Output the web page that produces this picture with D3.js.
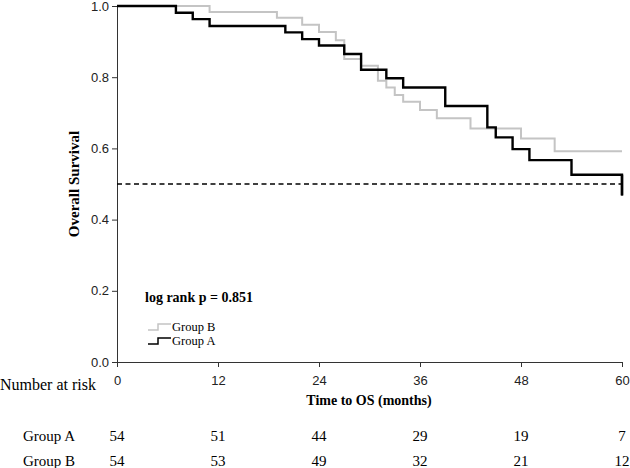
<!DOCTYPE html>
<html>
<head>
  <meta charset="UTF-8">
  <title>Overall Survival KM</title>
  <script src="https://d3js.org/d3.v7.min.js"></script>
  <style>
    body { margin: 0; padding: 0; background: white; }
    svg { display: block; font-family: "Liberation Serif", "Times New Roman", serif; }
    .axis text { font-size: 13px; fill: #222; }
    .axis path, .axis line { stroke: #333; }
  </style>
</head>
<body>
<svg></svg>
<script>
let width = 630, height = 468;
let svg = d3.select("svg").attr("width", width).attr("height", height);

// step data (month, survival)
const groupATimes = [0, 7, 9, 11, 20, 22, 24, 27, 29, 32, 34, 39, 44, 45, 47, 49, 54, 60];
const groupASurv  = [1.0, 0.981, 0.963, 0.944, 0.926, 0.907, 0.889, 0.865, 0.821, 0.797, 0.771, 0.719, 0.659, 0.631, 0.598, 0.567, 0.526, 0.468];
const groupBTimes = [0, 11, 19, 22, 24, 26, 27, 29, 31, 32, 33, 34, 36, 38, 42, 48, 52, 60];
const groupBSurv  = [1.0, 0.983, 0.967, 0.947, 0.927, 0.904, 0.851, 0.832, 0.790, 0.771, 0.750, 0.731, 0.708, 0.685, 0.656, 0.628, 0.592, 0.592];

const xTicks = [0, 12, 24, 36, 48, 60];
const yTicks = [0, 0.2, 0.4, 0.6, 0.8, 1.0];
const riskGroups = ["Group A", "Group B"];
const riskA = [54, 51, 44, 29, 19, 7];
const riskB = [54, 53, 49, 32, 21, 12];

let x = d3.scaleLinear().domain([0, 60]).range([117, 622]);
let y = d3.scaleLinear().domain([0, 1]).range([362, 6]);

// axes
svg.append("g")
  .attr("class", "axis")
  .attr("transform", `translate(${x(0)},0)`)
  .call(d3.axisLeft(y).tickValues(yTicks).tickFormat(d3.format(".1f")).tickSize(5).tickSizeOuter(0));

svg.append("g")
  .attr("class", "axis")
  .attr("transform", `translate(0,${y(0)})`)
  .call(d3.axisBottom(x).tickValues(xTicks).tickSize(5).tickPadding(9).tickSizeOuter(0));

// median reference
svg.append("line")
  .attr("x1", x(0)).attr("x2", x(60))
  .attr("y1", y(0.5)).attr("y2", y(0.5))
  .attr("stroke", "black")
  .attr("stroke-width", 1.6)
  .attr("stroke-dasharray", "5,3.5");

let line = d3.line()
  .x(d => x(d[0]))
  .y(d => y(d[1]))
  .curve(d3.curveStepAfter);

svg.append("path")
  .datum(d3.zip(groupBTimes, groupBSurv))
  .attr("d", line)
  .attr("fill", "none")
  .attr("stroke", "#c4c4c4")
  .attr("stroke-width", 2);

// group A ends with a drop at 60
let aPts = d3.zip(groupATimes, groupASurv);
svg.append("path")
  .datum(aPts)
  .attr("d", line)
  .attr("fill", "none")
  .attr("stroke", "black")
  .attr("stroke-width", 2.4);
svg.append("line")
  .attr("x1", x(60)).attr("x2", x(60))
  .attr("y1", y(groupASurv[groupASurv.length - 2])).attr("y2", y(groupASurv[groupASurv.length - 1]))
  .attr("stroke", "black").attr("stroke-width", 2.4);

// axis titles
svg.append("text")
  .attr("transform", `translate(79,${(y(0) + y(1)) / 2}) rotate(-90)`)
  .attr("text-anchor", "middle")
  .style("font-size", "15px")
  .style("font-weight", "bold")
  .text("Overall Survival");

svg.append("text")
  .attr("x", 369).attr("y", 405)
  .attr("text-anchor", "middle")
  .style("font-size", "14px")
  .style("font-weight", "bold")
  .text("Time to OS (months)");

svg.append("text")
  .attr("x", 145).attr("y", 302)
  .style("font-size", "14px")
  .style("font-weight", "bold")
  .text("log rank p = 0.851");

// legend
let legend = [["Group B", "#c4c4c4", 327], ["Group A", "black", 341]];
legend.forEach(([name, col, ly]) => {
  svg.append("path")
    .attr("d", `M148,${ly + 3}H158V${ly - 3}H171`)
    .attr("fill", "none")
    .attr("stroke", col)
    .attr("stroke-width", 1.5);
  svg.append("text")
    .attr("x", 172).attr("y", ly + 4)
    .style("font-size", "12.5px")
    .text(name);
});

// number at risk table
svg.append("text")
  .attr("x", 0).attr("y", 390)
  .style("font-size", "16px")
  .text("Number at risk");

[riskA, riskB].forEach((vals, i) => {
  let ry = 441 + i * 25;
  svg.append("text")
    .attr("x", 23).attr("y", ry)
    .style("font-size", "15px")
    .text(riskGroups[i]);
  svg.append("g").selectAll("text")
    .data(vals)
    .join("text")
    .attr("x", (d, j) => x(xTicks[j]))
    .attr("y", ry)
    .attr("text-anchor", "middle")
    .style("font-size", "15px")
    .text(d => d);
});
</script>
</body>
</html>
